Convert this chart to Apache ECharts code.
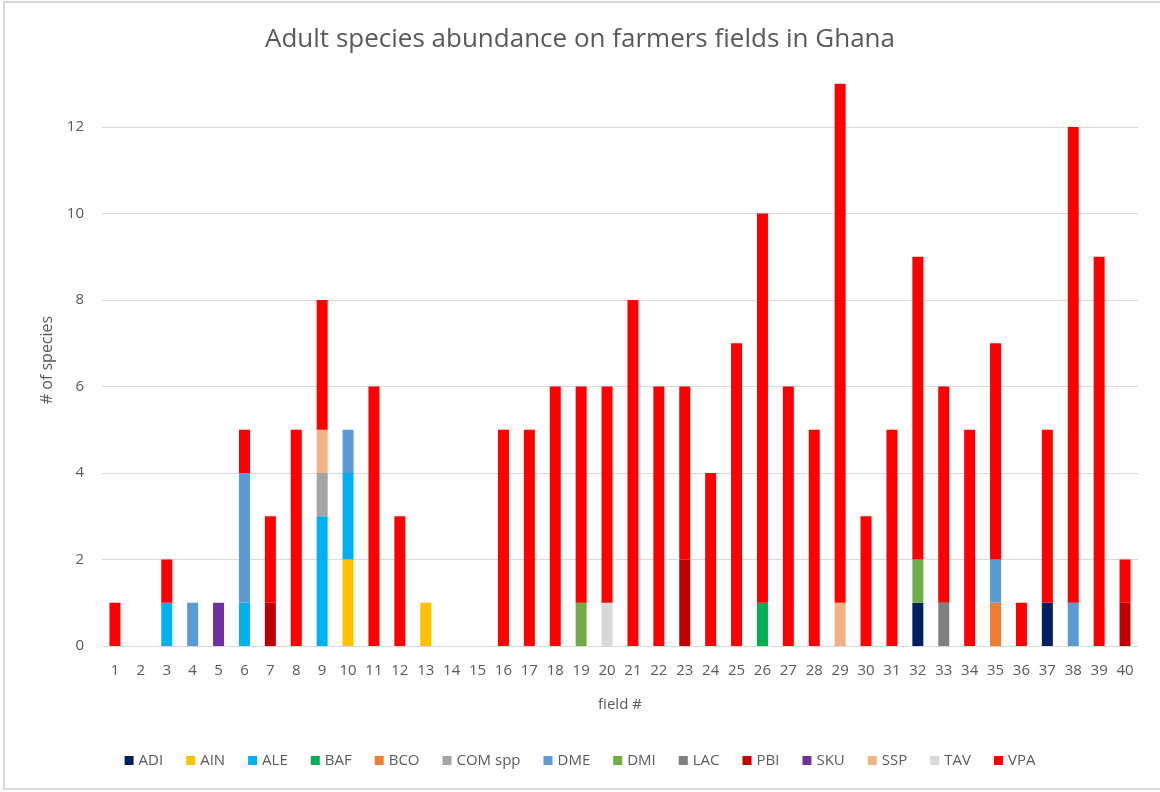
<!DOCTYPE html>
<html>
<head>
<meta charset="utf-8">
<script src="https://cdn.jsdelivr.net/npm/echarts@6/dist/echarts.min.js"></script>
<style>
  html, body { margin: 0; padding: 0; background: #fff; }
  #chart { width: 1160px; height: 792px; }
</style>
</head>
<body>
<div id="chart"></div>
<script>
// Field numbers 1..40
const fields = ['1','2','3','4','5','6','7','8','9','10','11','12','13','14','15','16','17','18','19','20',
                '21','22','23','24','25','26','27','28','29','30','31','32','33','34','35','36','37','38','39','40'];

// Adult counts per species, one value per field
const ADI = [0,0,0,0,0,0,0,0,0,0, 0,0,0,0,0,0,0,0,0,0, 0,0,0,0,0,0,0,0,0,0, 0,1,0,0,0,0,1,0,0,0];
const AIN = [0,0,0,0,0,0,0,0,0,2, 0,0,1,0,0,0,0,0,0,0, 0,0,0,0,0,0,0,0,0,0, 0,0,0,0,0,0,0,0,0,0];
const ALE = [0,0,1,0,0,1,0,0,3,2, 0,0,0,0,0,0,0,0,0,0, 0,0,0,0,0,0,0,0,0,0, 0,0,0,0,0,0,0,0,0,0];
const BAF = [0,0,0,0,0,0,0,0,0,0, 0,0,0,0,0,0,0,0,0,0, 0,0,0,0,0,1,0,0,0,0, 0,0,0,0,0,0,0,0,0,0];
const BCO = [0,0,0,0,0,0,0,0,0,0, 0,0,0,0,0,0,0,0,0,0, 0,0,0,0,0,0,0,0,0,0, 0,0,0,0,1,0,0,0,0,0];
const COM = [0,0,0,0,0,0,0,0,1,0, 0,0,0,0,0,0,0,0,0,0, 0,0,0,0,0,0,0,0,0,0, 0,0,0,0,0,0,0,0,0,0];
const DME = [0,0,0,1,0,3,0,0,0,1, 0,0,0,0,0,0,0,0,0,0, 0,0,0,0,0,0,0,0,0,0, 0,0,0,0,1,0,0,1,0,0];
const DMI = [0,0,0,0,0,0,0,0,0,0, 0,0,0,0,0,0,0,0,1,0, 0,0,0,0,0,0,0,0,0,0, 0,1,0,0,0,0,0,0,0,0];
const LAC = [0,0,0,0,0,0,0,0,0,0, 0,0,0,0,0,0,0,0,0,0, 0,0,0,0,0,0,0,0,0,0, 0,0,1,0,0,0,0,0,0,0];
const PBI = [0,0,0,0,0,0,1,0,0,0, 0,0,0,0,0,0,0,0,0,0, 0,0,2,0,0,0,0,0,0,0, 0,0,0,0,0,0,0,0,0,1];
const SKU = [0,0,0,0,1,0,0,0,0,0, 0,0,0,0,0,0,0,0,0,0, 0,0,0,0,0,0,0,0,0,0, 0,0,0,0,0,0,0,0,0,0];
const SSP = [0,0,0,0,0,0,0,0,1,0, 0,0,0,0,0,0,0,0,0,0, 0,0,0,0,0,0,0,0,1,0, 0,0,0,0,0,0,0,0,0,0];
const TAV = [0,0,0,0,0,0,0,0,0,0, 0,0,0,0,0,0,0,0,0,1, 0,0,0,0,0,0,0,0,0,0, 0,0,0,0,0,0,0,0,0,0];
const VPA = [1,0,1,0,0,1,2,5,3,0, 6,3,0,0,0,5,5,6,5,5, 8,6,4,4,7,9,6,5,12,3, 5,7,5,5,5,1,4,11,9,1];

// Species in stacking order (bottom to top) with their colours
const species = [
  { name: 'ADI',     data: ADI, color: '#002060' },
  { name: 'AIN',     data: AIN, color: '#FFC000' },
  { name: 'ALE',     data: ALE, color: '#00B0F0' },
  { name: 'BAF',     data: BAF, color: '#00B050' },
  { name: 'BCO',     data: BCO, color: '#ED7D31' },
  { name: 'COM spp', data: COM, color: '#A5A5A5' },
  { name: 'DME',     data: DME, color: '#5B9BD5' },
  { name: 'DMI',     data: DMI, color: '#70AD47' },
  { name: 'LAC',     data: LAC, color: '#7F7F7F' },
  { name: 'PBI',     data: PBI, color: '#C00000' },
  { name: 'SKU',     data: SKU, color: '#7030A0' },
  { name: 'SSP',     data: SSP, color: '#F4B183' },
  { name: 'TAV',     data: TAV, color: '#D9D9D9' },
  { name: 'VPA',     data: VPA, color: '#FF0000' }
];

const yTicks = { min: 0, max: 14, interval: 2 };

const FONT = 'Open Sans';
const TXT = '#595959';

const chart = echarts.init(document.getElementById('chart'), null, { renderer: 'canvas' });

chart.setOption({
  backgroundColor: '#ffffff',
  animation: false,
  textStyle: { fontFamily: FONT },
  title: {
    text: 'Adult species abundance on farmers fields in Ghana',
    left: 'center',
    top: 22,
    textStyle: { fontFamily: FONT, fontSize: 26, fontWeight: 'normal', color: TXT }
  },
  graphic: [
    {
      // outer chart frame
      type: 'rect',
      shape: { x: 4, y: 2, width: 1170, height: 787 },
      style: { fill: 'none', stroke: '#d9d9d9', lineWidth: 2 },
      silent: true
    },
    {
      // vertical axis title
      type: 'text',
      x: 47,
      y: 360,
      rotation: Math.PI / 2,
      style: {
        text: '# of species',
        fontFamily: FONT,
        fontSize: 16,
        fill: TXT,
        align: 'center',
        verticalAlign: 'middle'
      },
      silent: true
    }
  ],
  legend: {
    bottom: 19,
    left: 'center',
    icon: 'rect',
    itemWidth: 9,
    itemHeight: 9,
    itemGap: 23,
    textStyle: { fontFamily: FONT, fontSize: 15, color: TXT },
    data: species.map(s => s.name)
  },
  grid: { left: 102, right: 22, top: 40.5, bottom: 146, containLabel: false },
  xAxis: {
    type: 'category',
    data: fields,
    name: 'field #',
    nameLocation: 'middle',
    nameGap: 51,
    nameTextStyle: { fontFamily: FONT, fontSize: 15, color: TXT },
    axisLine: { lineStyle: { color: '#d9d9d9', width: 1 } },
    axisTick: { show: false },
    axisLabel: { fontFamily: FONT, fontSize: 15, color: TXT, margin: 17, interval: 0 }
  },
  yAxis: {
    type: 'value',
    min: yTicks.min,
    max: yTicks.max,
    interval: yTicks.interval,
    axisLine: { show: false },
    axisTick: { show: false },
    axisLabel: { fontFamily: FONT, fontSize: 15, color: TXT, margin: 18, showMaxLabel: false },
    splitLine: { show: true, showMaxLine: false, lineStyle: { color: '#d9d9d9', width: 1 } }
  },
  series: species.map(s => ({
    name: s.name,
    type: 'bar',
    stack: 'total',
    barWidth: 11,
    data: s.data,
    itemStyle: { color: s.color },
    emphasis: { disabled: true }
  }))
});
</script>
</body>
</html>
